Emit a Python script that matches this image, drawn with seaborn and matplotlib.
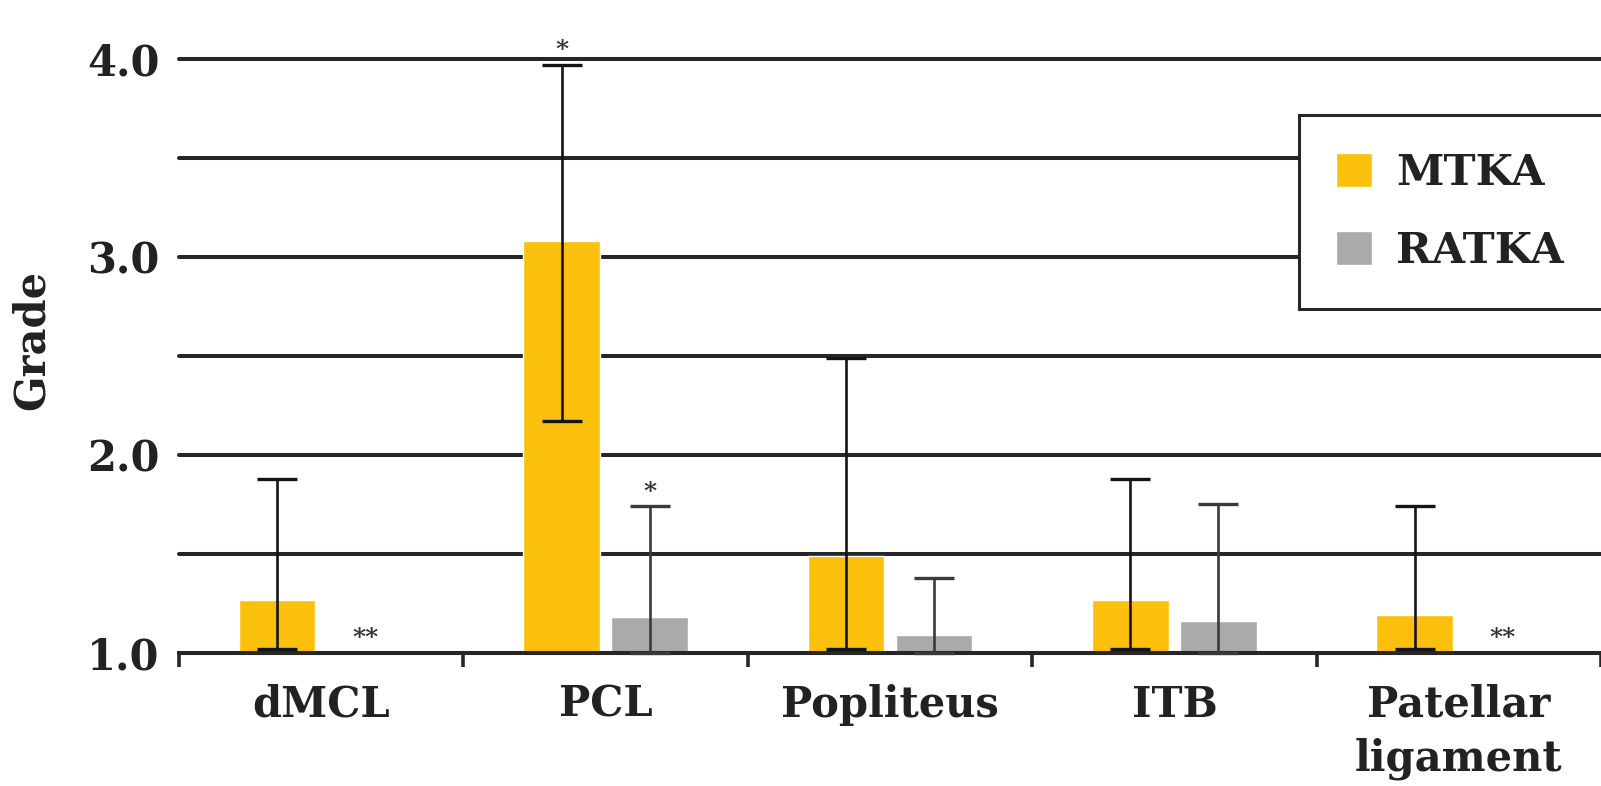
import numpy as np
import pandas as pd
import matplotlib
matplotlib.use("Agg")
import matplotlib.pyplot as plt
import seaborn as sns

# ---- data ----
categories = ["dMCL", "PCL", "Popliteus", "ITB", "Patellar\nligament"]
groups = ["MTKA", "RATKA"]
mtka_mean = [1.27, 3.08, 1.49, 1.27, 1.19]
ratka_mean = [1.0, 1.18, 1.09, 1.16, 1.0]
mtka_lower = [1.02, 2.17, 1.02, 1.02, 1.02]
mtka_upper = [1.88, 3.97, 2.49, 1.88, 1.74]
ratka_lower = [np.nan, 1.0, 1.0, 1.0, np.nan]
ratka_upper = [np.nan, 1.74, 1.38, 1.75, np.nan]
mtka_marks = ["", "*", "", "", ""]
ratka_marks = ["**", "*", "", "", "**"]
yticks = [1.0, 1.5, 2.0, 2.5, 3.0, 3.5, 4.0]
ytick_labels = ["1.0", "", "2.0", "", "3.0", "", "4.0"]

colors = {"MTKA": "#FBC00E", "RATKA": "#AAAAAA"}
err_colors = {"MTKA": "#151515", "RATKA": "#3a3a3a"}

sns.set_style("white")
plt.rcParams["font.family"] = ["DejaVu Serif"]
plt.rcParams["font.weight"] = "bold"
TXT = "#222222"

df = pd.DataFrame({
    "Ligament": categories * 2,
    "Grade": mtka_mean + ratka_mean,
    "Group": ["MTKA"] * len(categories) + ["RATKA"] * len(categories),
})

fig = plt.figure(figsize=(16.01, 7.86), dpi=100)
ax = fig.add_axes([179 / 1601, 1 - 653 / 786, 1 - 179 / 1601, (653 - 59) / 786])

sns.barplot(data=df, x="Ligament", y="Grade", hue="Group", order=categories,
            hue_order=groups, palette=colors, width=0.62, gap=0.13,
            saturation=1, errorbar=None, ax=ax, zorder=2)

# error bars
err_data = {
    "MTKA": (mtka_mean, mtka_lower, mtka_upper, mtka_marks),
    "RATKA": (ratka_mean, ratka_lower, ratka_upper, ratka_marks),
}
for cont, g in zip(ax.containers, groups):
    mean, lo, hi, marks = err_data[g]
    xs = np.array([b.get_x() + b.get_width() / 2 for b in cont])
    mean = np.array(mean)
    lo = np.array(lo)
    hi = np.array(hi)
    ax.errorbar(xs, mean, yerr=[mean - lo, hi - mean], fmt="none",
                ecolor=err_colors[g], elinewidth=1.9, capsize=14.5,
                capthick=2.4, zorder=4, clip_on=False)
    for x, m, h, mk in zip(xs, mean, hi, marks):
        if not mk:
            continue
        y = h if not np.isnan(h) else m
        ax.annotate(mk, (x, y), xytext=(0, 2), textcoords="offset points",
                    ha="center", va="bottom", fontsize=18, color="#333333",
                    annotation_clip=False)

ax.set_xlim(-0.5, 4.5)
ax.set_ylim(1.0, 4.0)
ax.set_yticks(yticks)
ax.set_yticklabels(ytick_labels)
ax.yaxis.grid(True, color="#262626", linewidth=2.9, zorder=0)
for gl in ax.get_ygridlines():
    gl.set_clip_on(False)
ax.set_axisbelow(True)
ax.tick_params(axis="y", length=0, pad=14, labelsize=30, labelcolor=TXT)

ax.set_xticks(np.arange(-0.5, 5.0, 1.0))
ax.set_xticklabels([""] * 6)
ax.set_xticks(np.arange(len(categories)), minor=True)
ax.set_xticklabels(categories, minor=True, fontsize=30, color=TXT,
                   fontweight="bold", va="top", linespacing=1.35)
ax.tick_params(axis="x", which="major", bottom=True, length=10, width=2.6,
               color="#262626", direction="out")
ax.tick_params(axis="x", which="minor", bottom=True, length=0, pad=22)

for s in ["top", "right", "left"]:
    ax.spines[s].set_visible(False)
ax.spines["bottom"].set_color("#262626")
ax.spines["bottom"].set_linewidth(2.9)
ax.spines["bottom"].set_zorder(3)

ax.set_xlabel("")
ax.set_ylabel("Grade", fontsize=30, color=TXT, fontweight="bold")
ax.yaxis.set_label_coords(-0.089, 0.527)

handles, labels = ax.get_legend_handles_labels()
if ax.get_legend() is not None:
    ax.get_legend().remove()
leg = ax.legend(handles, labels, loc="upper left",
                bbox_to_anchor=(1299 / 1601, 0, 0.25, 1 - 115 / 786),
                bbox_transform=fig.transFigure, mode="expand",
                borderaxespad=0, frameon=True, fancybox=False, framealpha=1,
                edgecolor="#262626", fontsize=31, handlelength=0.85,
                handleheight=0.85, handletextpad=0.55, borderpad=0.85,
                labelspacing=0.85)
leg.get_frame().set_linewidth(2.2)
for t in leg.get_texts():
    t.set_color(TXT)
    t.set_fontweight("bold")

fig.savefig("out.png", dpi=100)
